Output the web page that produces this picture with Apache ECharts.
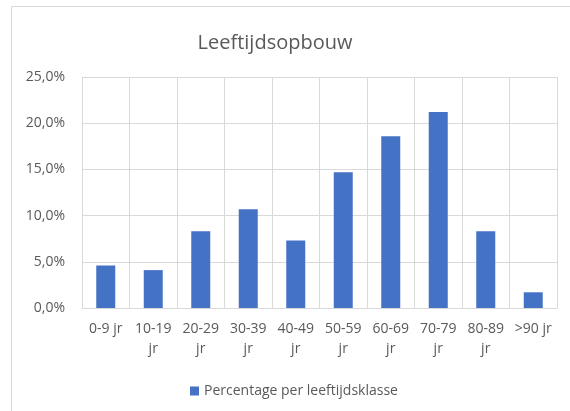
<!DOCTYPE html>
<html>
<head>
<meta charset="utf-8">
<script src="https://cdn.jsdelivr.net/npm/echarts@6/dist/echarts.min.js"></script>
<style>
  html, body { margin: 0; padding: 0; background: #fff; }
  #chart { width: 570px; height: 411px; }
</style>
</head>
<body>
<div id="chart"></div>
<script>
// data
const categories = ['0-9 jr', '10-19 jr', '20-29 jr', '30-39 jr', '40-49 jr',
  '50-59 jr', '60-69 jr', '70-79 jr', '80-89 jr', '>90 jr']
const percentages = [4.6, 4.1, 8.3, 10.7, 7.3, 14.7, 18.6, 21.2, 8.3, 1.7]
const yTicks = [0, 5, 10, 15, 20, 25]

const textColor = '#595959'
const gridColor = '#d9d9d9'
const font = 'Open Sans'

const chart = echarts.init(document.getElementById('chart'))

const option = {
  animation: false,
  textStyle: { fontFamily: font },
  graphic: [
    {
      type: 'rect',
      shape: { x: 11.5, y: 6.5, width: 600, height: 450 },
      style: { fill: 'none', stroke: gridColor, lineWidth: 1 },
      silent: true
    }
  ],
  title: {
    text: 'Leeftijdsopbouw',
    left: 270,
    textAlign: 'center',
    top: 28,
    textStyle: { fontFamily: font, fontSize: 20, fontWeight: 'normal', color: textColor }
  },
  legend: {
    data: ['Percentage per leeftijdsklasse'],
    left: 185,
    top: 379,
    itemWidth: 9,
    itemHeight: 9,
    itemGap: 6,
    icon: 'rect',
    textStyle: { fontFamily: font, fontSize: 14, color: textColor }
  },
  grid: {
    left: 82,
    right: 13,
    top: 77,
    bottom: 103
  },
  xAxis: {
    type: 'category',
    data: categories,
    axisLine: { show: true, lineStyle: { color: gridColor, width: 1 } },
    axisTick: { show: false },
    splitLine: { show: true, interval: 0, lineStyle: { color: gridColor, width: 1 } },
    axisLabel: {
      interval: 0,
      margin: 11,
      color: textColor,
      fontSize: 14,
      lineHeight: 20,
      formatter: v => (v.length > 6 ? v.replace(' ', '\n') : v)
    }
  },
  yAxis: {
    type: 'value',
    min: yTicks[0],
    max: yTicks[yTicks.length - 1],
    interval: 5,
    axisLine: { show: true, lineStyle: { color: gridColor, width: 1 } },
    axisTick: { show: false },
    splitLine: { show: true, lineStyle: { color: gridColor, width: 1 } },
    axisLabel: {
      margin: 17,
      color: textColor,
      fontSize: 14,
      formatter: v => v.toFixed(1).replace('.', ',') + '%'
    }
  },
  series: [
    {
      name: 'Percentage per leeftijdsklasse',
      type: 'bar',
      data: percentages,
      barWidth: '40%',
      itemStyle: { color: '#4472c4' }
    }
  ]
}

chart.setOption(option)
</script>
</body>
</html>
